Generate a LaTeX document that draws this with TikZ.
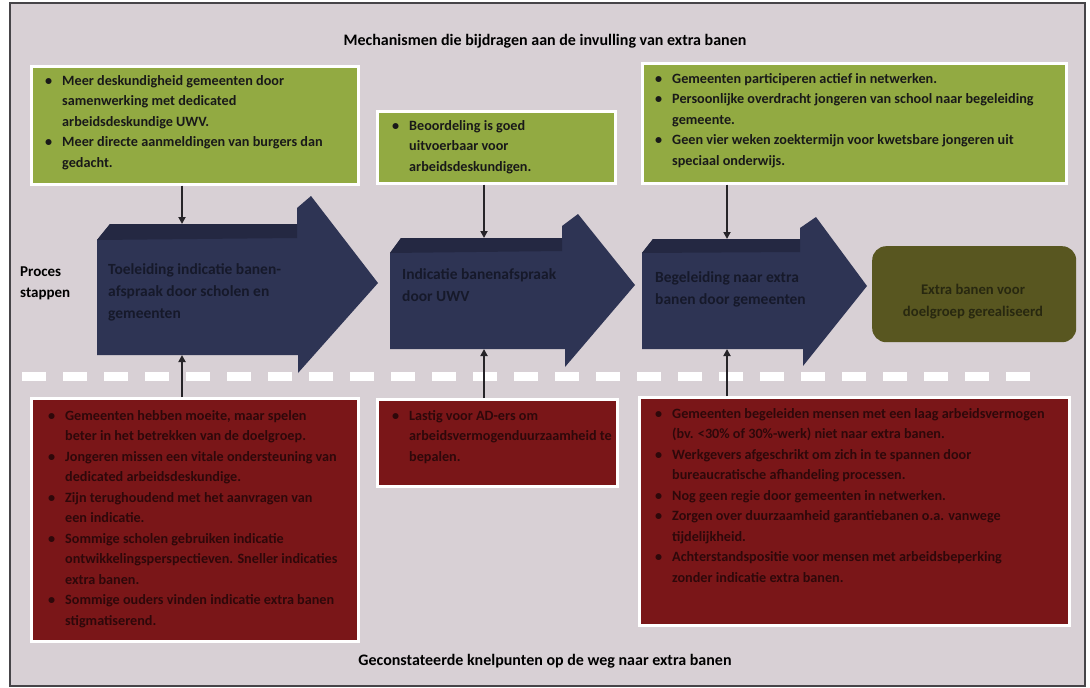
\documentclass[tikz,border=0pt]{standalone}
\usepackage{fontspec}
\setmainfont{Carlito}
\usetikzlibrary{arrows.meta,shadows}
\definecolor{bgc}{RGB}{216,208,213}
\definecolor{grn}{RGB}{146,170,66}
\definecolor{navy}{RGB}{46,52,84}
\definecolor{navytop}{RGB}{36,40,66}
\definecolor{navytxt}{RGB}{22,25,42}
\definecolor{olv}{RGB}{88,86,32}
\definecolor{olvtxt}{RGB}{40,40,16}
\definecolor{rd}{RGB}{122,22,24}
\definecolor{rdtxt}{RGB}{46,8,10}
\definecolor{lnc}{RGB}{38,36,40}
\definecolor{frm}{RGB}{70,68,72}
\newcommand\bitem{\makebox[17pt][l]{\textbullet}}
\newcommand\bcont{\hspace*{17pt}}
\tikzset{
  boxbase/.style={draw=white, line width=2.5pt, anchor=north west, inner sep=0pt,
    drop shadow={shadow xshift=2pt, shadow yshift=-2pt, fill=black!75, opacity=0.7}},
  gbox/.style={boxbase, fill=grn},
  rbox/.style={boxbase, fill=rd},
  btxt/.style={anchor=north west, inner sep=0pt, align=left,
    font=\bfseries\fontsize{14.2}{20.5}\selectfont},
  gtxt/.style={btxt, text=black!90},
  rtxt/.style={btxt, text=rdtxt},
  atxt/.style={anchor=north west, inner sep=0pt, align=left, text=navytxt,
    font=\bfseries\fontsize{15.5}{22}\selectfont},
  ttl/.style={inner sep=0pt, font=\bfseries\fontsize{16}{18}\selectfont},
  conn/.style={draw=lnc, line width=2.2pt, -{Triangle[length=7pt,width=7pt]}},
  arrowshape/.style={fill=navy},
}
\begin{document}
\begin{tikzpicture}[x=1pt,y=-1pt]
\useasboundingbox (0,0) rectangle (1090,688);
\fill[white] (0,0) rectangle (1090,688);
\fill[bgc] (10,3) rectangle (1085,686);
\draw[frm, line width=1.2pt] (10,3) rectangle (1085,686);

% titles
\node[ttl] (ttop) at (545,41) {Mechanismen die bijdragen aan de invulling van extra banen};
\node[ttl] (tbot) at (545,661) {Geconstateerde knelpunten op de weg naar extra banen};

% green boxes
\node[gbox, minimum width=327pt, minimum height=118pt] (g1) at (30,65) {};
\node[gtxt] (g1t) at (45,75) {\bitem Meer deskundigheid gemeenten door\\
\bcont samenwerking met dedicated\\
\bcont arbeidsdeskundige UWV.\\
\bitem Meer directe aanmeldingen van burgers dan\\
\bcont gedacht.};
\node[gbox, minimum width=238pt, minimum height=72pt] (g2) at (376,110) {};
\node[gtxt] (g2t) at (392,120) {\bitem Beoordeling is goed\\
\bcont uitvoerbaar voor\\
\bcont arbeidsdeskundigen.};
\node[gbox, minimum width=424pt, minimum height=120pt] (g3) at (641,62) {};
\node[gtxt] (g3t) at (655,73) {\bitem Gemeenten participeren actief in netwerken.\\
\bitem Persoonlijke overdracht jongeren van school naar begeleiding\\
\bcont gemeente.\\
\bitem Geen vier weken zoektermijn voor kwetsbare jongeren uit\\
\bcont speciaal onderwijs.};

% process arrows
\fill[arrowshape] (97,240) -- (110,224) -- (297,224) -- (297,208) -- (311,196) -- (378,283) -- (298,373) -- (298,355) -- (97,355) -- cycle;
\fill[navytop] (97,240) -- (110,224) -- (297,224) -- (297,238) -- cycle;
\fill[arrowshape] (390,253) -- (401,238) -- (562,238) -- (562,226) -- (578,214) -- (635,285) -- (565,367) -- (565,349) -- (390,349) -- cycle;
\fill[navytop] (390,253) -- (401,238) -- (562,238) -- (562,251) -- cycle;
\fill[arrowshape] (642,253) -- (653,239) -- (800,239) -- (800,228) -- (816,217) -- (867,286) -- (803,366) -- (803,349) -- (642,349) -- cycle;
\fill[navytop] (642,253) -- (653,239) -- (800,239) -- (800,252) -- cycle;
\coordinate (a1top) at (182,224);
\coordinate (a1bot) at (182,355);
\coordinate (a2top) at (484,238);
\coordinate (a2bot) at (484,349);
\coordinate (a3top) at (727,239);
\coordinate (a3bot) at (727,349);
\node[atxt] (a1t) at (108,263) {Toeleiding indicatie banen-\\afspraak door scholen en\\gemeenten};
\node[atxt] (a2t) at (402,268) {Indicatie banenafspraak\\door UWV};
\node[atxt] (a3t) at (655,271) {Begeleiding naar extra\\banen door gemeenten};

% end box
\node[fill=olv, rounded corners=14pt, minimum width=204pt, minimum height=96pt, inner sep=0pt,
  anchor=north west] (eb) at (872,246) {};
\node[align=center, inner sep=0pt, text=olvtxt, font=\bfseries\fontsize{14.7}{22}\selectfont]
  (ebt) at (973,302) {Extra banen voor\\doelgroep gerealiseerd};

% left label
\node[anchor=west, align=left, inner sep=0pt, font=\bfseries\fontsize{15}{21}\selectfont]
  (proc) at (20,283) {Proces\\stappen};

% dashed separator
\coordinate (dl) at (22,376);
\coordinate (dr) at (1040,376);
\draw[white, line width=9pt, dash pattern=on 24pt off 17pt] (dl) -- (dr);

% red boxes
\node[rbox, minimum width=327pt, minimum height=243pt] (r1) at (30,397) {};
\node[rtxt] (r1t) at (48,410) {\bitem Gemeenten hebben moeite, maar spelen\\
\bcont beter in het betrekken van de doelgroep.\\
\bitem Jongeren missen een vitale ondersteuning van\\
\bcont dedicated arbeidsdeskundige.\\
\bitem Zijn terughoudend met het aanvragen van\\
\bcont een indicatie.\\
\bitem Sommige scholen gebruiken indicatie\\
\bcont ontwikkelingsperspectieven. Sneller indicaties\\
\bcont extra banen.\\
\bitem Sommige ouders vinden indicatie extra banen\\
\bcont stigmatiserend.};
\node[rbox, minimum width=240pt, minimum height=87pt] (r2) at (376,398) {};
\node[rtxt] (r2t) at (392,410) {\bitem Lastig voor AD-ers om\\
\bcont arbeidsvermogenduurzaamheid te\\
\bcont bepalen.};
\node[rbox, minimum width=430pt, minimum height=228pt] (r3) at (638,396) {};
\node[rtxt] (r3t) at (655,408) {\bitem Gemeenten begeleiden mensen met een laag arbeidsvermogen\\
\bcont (bv. {<}30\% of 30\%-werk) niet naar extra banen.\\
\bitem Werkgevers afgeschrikt om zich in te spannen door\\
\bcont bureaucratische afhandeling processen.\\
\bitem Nog geen regie door gemeenten in netwerken.\\
\bitem Zorgen over duurzaamheid garantiebanen o.a. vanwege\\
\bcont tijdelijkheid.\\
\bitem Achterstandspositie voor mensen met arbeidsbeperking\\
\bcont zonder indicatie extra banen.};

% connectors
\draw[conn] (g1.south -| a1top) -- (a1top);
\draw[conn] (g2.south -| a2top) -- (a2top);
\draw[conn] (g3.south -| a3top) -- (a3top);
\draw[conn] (r1.north -| a1bot) -- (a1bot);
\draw[conn] (r2.north -| a2bot) -- (a2bot);
\draw[conn] (r3.north -| a3bot) -- (a3bot);
\end{tikzpicture}
\end{document}
